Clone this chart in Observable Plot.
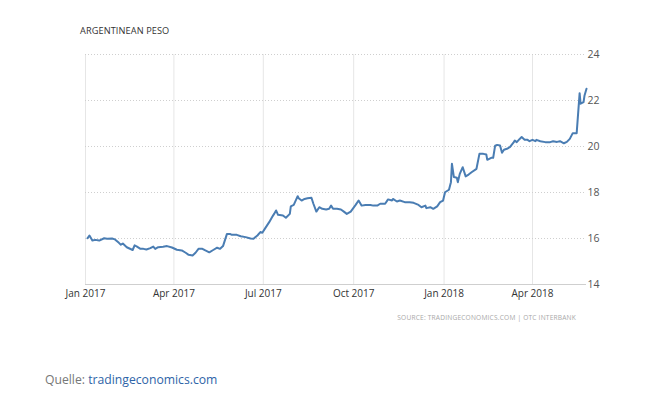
<!DOCTYPE html>
<html>
<head>
<meta charset="utf-8">
<script src="https://cdn.jsdelivr.net/npm/d3@7"></script>
<script src="https://cdn.jsdelivr.net/npm/@observablehq/plot@0.6"></script>
<style>
  html, body { margin: 0; padding: 0; background: #fff; }
  body { width: 666px; height: 397px; position: relative; overflow: hidden; font-family: "Open Sans", sans-serif; }
  #title { position: absolute; left: 80px; top: 24px; font-size: 9.2px; color: #333; letter-spacing: 0.1px; }
  #chart { position: absolute; left: 0; top: 40px; }
  #source { position: absolute; right: 90px; top: 313px; font-size: 6.6px; color: #a8a8a8; letter-spacing: 0.2px; }
  #caption { position: absolute; left: 45px; top: 371px; font-size: 12.2px; color: #777; }
  #caption span { color: #2e64a8; }
</style>
</head>
<body>
<div id="title">ARGENTINEAN PESO</div>
<div id="chart"></div>
<div id="source">SOURCE: TRADINGECONOMICS.COM | OTC INTERBANK</div>
<div id="caption">Quelle: <span>tradingeconomics.com</span></div>
<script>
const dates = [
"2017-01-03","2017-01-05","2017-01-08","2017-01-11","2017-01-15","2017-01-20","2017-01-23","2017-01-28","2017-01-31",
"2017-02-04","2017-02-06","2017-02-08","2017-02-12","2017-02-18","2017-02-20","2017-02-22","2017-02-26",
"2017-03-01","2017-03-04","2017-03-08","2017-03-11","2017-03-13","2017-03-16","2017-03-21","2017-03-25","2017-03-30",
"2017-04-04","2017-04-09","2017-04-13","2017-04-16","2017-04-20","2017-04-23","2017-04-26","2017-04-30",
"2017-05-03","2017-05-07","2017-05-11","2017-05-15","2017-05-18","2017-05-21","2017-05-25","2017-05-28","2017-05-30",
"2017-06-04","2017-06-08","2017-06-13","2017-06-18","2017-06-21","2017-06-25","2017-06-28","2017-06-30",
"2017-07-03","2017-07-07","2017-07-10","2017-07-12","2017-07-14","2017-07-16","2017-07-21","2017-07-24","2017-07-28","2017-07-29",
"2017-08-01","2017-08-05","2017-08-06","2017-08-09","2017-08-12","2017-08-15","2017-08-19","2017-08-21","2017-08-24","2017-08-27","2017-08-30",
"2017-09-03","2017-09-06","2017-09-08","2017-09-10","2017-09-14","2017-09-18","2017-09-21","2017-09-24","2017-09-28",
"2017-10-03","2017-10-06","2017-10-09","2017-10-13","2017-10-18","2017-10-21","2017-10-25","2017-10-28",
"2017-11-02","2017-11-05","2017-11-09","2017-11-10","2017-11-14","2017-11-17","2017-11-22","2017-11-27",
"2017-12-01","2017-12-06","2017-12-09","2017-12-13","2017-12-14","2017-12-18","2017-12-21","2017-12-25","2017-12-28","2017-12-31",
"2018-01-02","2018-01-06","2018-01-08","2018-01-09","2018-01-11","2018-01-14","2018-01-15","2018-01-17","2018-01-20","2018-01-23","2018-01-26","2018-01-29",
"2018-02-03","2018-02-06","2018-02-10","2018-02-13","2018-02-14","2018-02-18","2018-02-20","2018-02-22","2018-02-24","2018-02-27",
"2018-03-01","2018-03-03","2018-03-06","2018-03-09","2018-03-13","2018-03-14","2018-03-16","2018-03-19","2018-03-21","2018-03-24","2018-03-27","2018-03-29",
"2018-04-01","2018-04-04","2018-04-05","2018-04-09","2018-04-14","2018-04-19","2018-04-22","2018-04-26","2018-04-29",
"2018-05-03","2018-05-06","2018-05-09","2018-05-12","2018-05-16","2018-05-19","2018-05-20","2018-05-23","2018-05-24","2018-05-26"
];
const values = [
16.01,16.13,15.91,15.94,15.91,16.01,15.99,16.00,15.96,
15.81,15.73,15.78,15.62,15.50,15.70,15.66,15.55,
15.55,15.52,15.58,15.65,15.55,15.62,15.64,15.67,15.61,
15.51,15.48,15.38,15.29,15.26,15.38,15.55,15.55,
15.48,15.40,15.50,15.60,15.55,15.67,16.20,16.20,16.16,
16.16,16.10,16.06,16.00,15.99,16.13,16.28,16.25,
16.45,16.71,16.93,17.07,17.22,17.03,17.00,16.90,17.07,17.40,
17.46,17.84,17.75,17.65,17.72,17.75,17.77,17.51,17.17,17.36,17.29,
17.26,17.29,17.43,17.29,17.29,17.26,17.17,17.07,17.17,
17.46,17.65,17.43,17.46,17.46,17.43,17.43,17.51,
17.51,17.70,17.65,17.72,17.61,17.65,17.58,17.58,
17.55,17.46,17.36,17.43,17.32,17.36,17.29,17.40,17.58,17.65,
18.01,18.12,18.45,19.25,18.67,18.64,18.45,18.81,19.10,18.70,18.78,18.88,
19.03,19.68,19.68,19.65,19.42,19.51,19.51,20.04,20.07,20.04,
19.73,19.86,19.90,19.97,20.19,20.26,20.19,20.33,20.41,20.29,20.29,20.23,
20.29,20.23,20.29,20.23,20.19,20.19,20.23,20.20,20.23,
20.14,20.20,20.33,20.58,20.58,22.32,21.86,21.93,22.22,22.51
];
const xTickDates = ["2017-01-01","2017-04-01","2017-07-01","2017-10-01","2018-01-01","2018-04-01"];
const xTickLabels = ["Jan 2017","Apr 2017","Jul 2017","Oct 2017","Jan 2018","Apr 2018"];
const yTicks = [14, 16, 18, 20, 22, 24];

const data = dates.map((d, i) => ({date: new Date(d), value: values[i]}));
const xTicks = xTickDates.map(d => new Date(d));
const labelOf = new Map(xTicks.map((d, i) => [+d, xTickLabels[i]]));

const chart = Plot.plot({
  width: 666,
  height: 265,
  marginLeft: 85,
  marginRight: 80,
  marginTop: 14,
  marginBottom: 21,
  style: {fontFamily: "'Open Sans', sans-serif", fontSize: "10px", background: "transparent"},
  x: {type: "utc", domain: [new Date("2017-01-01"), new Date("2018-05-26")]},
  y: {domain: [14, 24]},
  marks: [
    Plot.gridX(xTicks, {stroke: "#e6e6e6", strokeOpacity: 1, strokeWidth: 1}),
    Plot.gridY(yTicks.filter(v => v > 14), {stroke: "#cfcfcf", strokeOpacity: 1, strokeDasharray: "1,2"}),
    Plot.ruleY([14], {stroke: "#cfcfcf"}),
    Plot.axisX(xTicks, {tickSize: 0, tickPadding: 5, tickFormat: d => labelOf.get(+d), fill: "#333", fontSize: 10, label: null}),
    Plot.axisY(yTicks, {anchor: "right", tickSize: 0, tickPadding: 1, textAnchor: "start", fill: "#555", fontSize: 10.5, label: null}),
    Plot.lineY(data, {x: "date", y: "value", stroke: "#4a7db3", strokeWidth: 2, curve: "linear"})
  ]
});
document.getElementById("chart").appendChild(chart);
</script>
</body>
</html>
